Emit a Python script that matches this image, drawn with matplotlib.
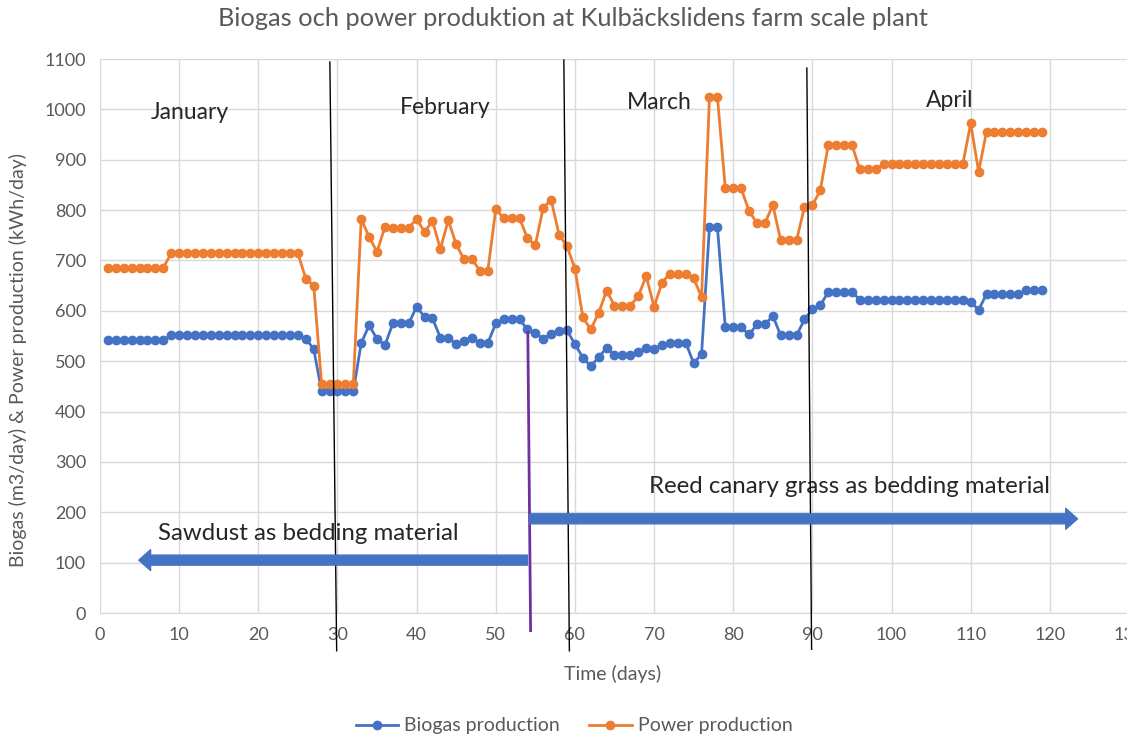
import matplotlib
matplotlib.use("Agg")
import matplotlib.pyplot as plt
from matplotlib.patches import FancyArrowPatch

plt.rcParams['font.family'] = ['Lato', 'DejaVu Sans']

# dagliga värden, dag 1..119
days = list(range(1, 120))

biogas = [
    542, 542, 542, 542, 542, 542, 542, 542,
    552, 552, 552, 552, 552, 552, 552, 552, 552, 552, 552, 552, 552, 552, 552, 552, 552,
    545, 524, 440, 440, 440, 440, 440,
    536, 571, 544, 532, 575, 575, 575, 608, 588, 585,
    547, 547, 534, 541, 547, 536, 536, 575, 583, 583,
    583, 563, 555, 545, 554, 559, 561, 534, 507, 490,
    508, 526, 512, 512, 512, 519, 526, 524, 532, 537,
    537, 537, 496, 514, 767, 767, 567, 567, 567, 553,
    573, 573, 590, 551, 551, 551, 583, 603, 611,
    637, 637, 637, 637,
    622, 622, 622, 622, 622, 622, 622, 622, 622, 622, 622, 622, 622, 622,
    618, 602,
    633, 633, 633, 633, 633,
    641, 641, 641,
]

power = [
    686, 686, 686, 686, 686, 686, 686, 686,
    714, 714, 714, 714, 714, 714, 714, 714, 714, 714, 714, 714, 714, 714, 714, 714, 714,
    664, 650, 454, 454, 454, 454, 454,
    782, 747, 717, 767, 765, 765, 765, 782, 757, 778,
    723, 780, 732, 702, 702, 680, 680, 802, 784, 784,
    784, 744, 731, 805, 820, 751, 728, 684, 587, 563,
    596, 640, 610, 610, 610, 629, 669, 608, 656, 674,
    674, 674, 665, 627, 1025, 1025, 843, 843, 843, 798,
    774, 774, 810, 740, 740, 740, 806, 810, 839,
    929, 929, 929, 929,
    881, 881, 881,
    891, 891, 891, 891, 891, 891, 891, 891, 891, 891, 891,
    972, 876,
    956, 956, 956, 956, 956, 956, 956, 956,
]

months = ["January", "February", "March", "April"]

BLUE = "#4472C4"
ORANGE = "#ED7D31"
GRAY = "#595959"
GRID = "#D9D9D9"
TXT = "#262626"

fig = plt.figure(figsize=(11.27, 7.39), dpi=100)
ax = fig.add_axes([100/1127, 126/739, 1029/1127, 554/739])

ax.plot(days, biogas, color=BLUE, lw=2, marker="o", ms=6, label="Biogas production", zorder=3)
ax.plot(days, power, color=ORANGE, lw=2, marker="o", ms=6, label="Power production", zorder=3)

ax.set_xlim(0, 130)
ax.set_ylim(0, 1100)
ax.set_xticks(range(0, 131, 10))
ax.set_yticks(range(0, 1101, 100))
ax.grid(True, color=GRID, lw=1)
ax.set_axisbelow(True)
for s in ["top", "right", "left"]:
    ax.spines[s].set_visible(False)
ax.spines["bottom"].set_color(GRID)
ax.tick_params(length=0, labelsize=13, labelcolor=GRAY, pad=10)

ax.set_xlabel("Time (days)", fontsize=14, color=GRAY)
ax.xaxis.set_label_coords((613 - 100) / 1029, (613 - 665) / 554)
ax.set_ylabel("Biogas (m3/day) & Power production (kWh/day)", fontsize=14, color=GRAY)
ax.yaxis.set_label_coords((27 - 100) / 1029, (613 - 360) / 554)
fig.text(573/1127, 1 - 18/739, "Biogas och power produktion at Kulbäckslidens farm scale plant",
         ha="center", va="center", fontsize=18.3, color=GRAY)

# månadsgränser
for (x0, y0, x1, y1) in [(29.04, 1094, 29.9, -75), (58.6, 1098, 59.3, -75), (89.3, 1082, 89.9, -72)]:
    ax.plot([x0, x1], [y0, y1], color="black", lw=1, clip_on=False, zorder=4)
ax.plot([54.05, 54.4], [558, -35], color="#7030A0", lw=2, clip_on=False, zorder=4)

for name, x, y in zip(months, [11.4, 43.6, 70.7, 107.4], [993, 1003, 1013, 1017]):
    ax.text(x, y, name, ha="center", va="center", fontsize=16.5, color=TXT)

arrow_style = "simple,head_width=1.5,head_length=0.85,tail_width=0.72"
ax.add_patch(FancyArrowPatch((54.0, 105), (4.9, 105), arrowstyle=arrow_style,
                             mutation_scale=10, color=BLUE, shrinkA=0, shrinkB=0, zorder=5))
ax.add_patch(FancyArrowPatch((54.3, 187), (123.5, 187), arrowstyle=arrow_style,
                             mutation_scale=10, color=BLUE, shrinkA=0, shrinkB=0, zorder=5))
ax.text(7.3, 158, "Sawdust as bedding material", ha="left", va="center", fontsize=17.3, color=TXT)
ax.text(69.4, 251, "Reed canary grass as bedding material", ha="left", va="center", fontsize=17.3, color=TXT)

fig.legend(loc="center", bbox_to_anchor=(574/1127, 1 - 726/739), ncol=2, frameon=False,
           fontsize=14, labelcolor=GRAY, handlelength=2.2, columnspacing=1.5, handletextpad=0.3)

fig.savefig("out.png", dpi=100)
